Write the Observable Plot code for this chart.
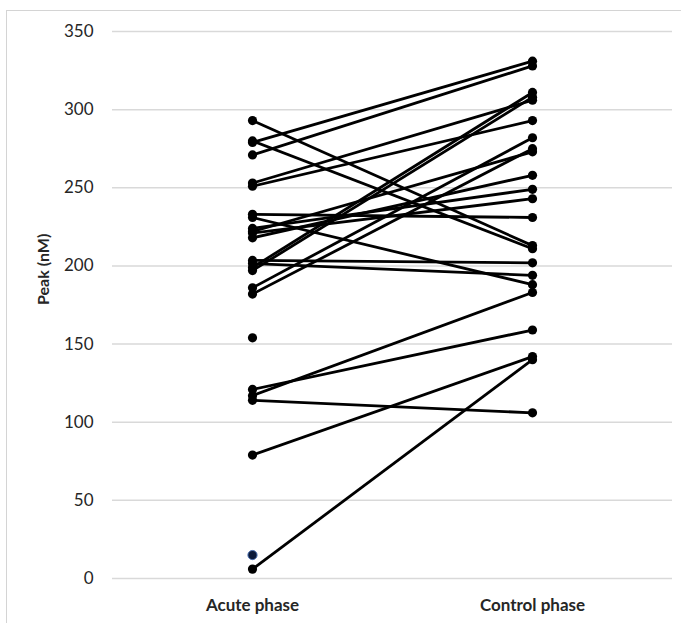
<!DOCTYPE html>
<html>
<head>
<meta charset="utf-8">
<script src="https://cdn.jsdelivr.net/npm/d3@7"></script>
<script src="https://cdn.jsdelivr.net/npm/@observablehq/plot@0.6"></script>
<style>
  html, body { margin: 0; padding: 0; background: #fff; }
  #wrap { position: relative; width: 681px; height: 623px; overflow: hidden; }
  #edge { position: absolute; left: 6px; top: 10px; width: 700px; height: 640px;
          border-top: 1.5px solid #d4d4d4; border-left: 1.5px solid #d4d4d4; }
  #chart { position: absolute; left: 0; top: 0; }
</style>
</head>
<body>
<div id="wrap"><div id="edge"></div><div id="chart"></div></div>
<script>
// Phase categories on the x axis
const phases = ["Acute phase", "Control phase"];
// Paired peak values (nM) per subject: acute phase and control phase
const acutePeak   = [293, 280, 279, 271, 253, 251, 233, 231, 224, 222, 221, 218, 203.5, 201.5, 199, 197, 186, 182, 121, 117, 114, 79, 6];
const controlPeak = [213, 211, 331, 328, 306, 293, 231, 188, 249, 273, 243, 258, 202, 194, 311, 308, 282, 275, 159, 183, 106, 142, 140];
// Acute-phase measurements without a control counterpart
const unpairedAcute = [154];
const unpairedAcuteMarked = [15];
// Y tick values
const yTicks = [0, 50, 100, 150, 200, 250, 300, 350];

const pairs = acutePeak.map((a, i) => ({a, c: controlPeak[i]}));
const points = [
  ...acutePeak.map(v => ({phase: phases[0], v})),
  ...controlPeak.map(v => ({phase: phases[1], v})),
  ...unpairedAcute.map(v => ({phase: phases[0], v}))
];
const marked = unpairedAcuteMarked.map(v => ({phase: phases[0], v}));

const chart = Plot.plot({
  width: 681,
  height: 623,
  marginTop: 31,
  marginBottom: 45,
  marginLeft: 112,
  marginRight: 9,
  style: {fontFamily: "Lato, 'Open Sans', sans-serif", fontSize: "17px", color: "#262626", background: "transparent"},
  x: {domain: phases, type: "point", padding: 0.5, label: null},
  y: {domain: [0, 350], ticks: yTicks, label: null},
  marks: [
    Plot.gridY(yTicks, {stroke: "#d9d9d9", strokeOpacity: 1, strokeWidth: 1.5}),
    Plot.axisY(yTicks, {tickSize: 0, tickPadding: 19, fontSize: 17, label: null}),
    Plot.axisX({tickSize: 0, tickPadding: 20, fontSize: 17, fontWeight: "bold", label: null}),
    Plot.link(pairs, {x1: () => phases[0], x2: () => phases[1], y1: "a", y2: "c", stroke: "#000", strokeWidth: 2.8}),
    Plot.dot(points, {x: "phase", y: "v", r: 4.6, fill: "#000", stroke: "none"}),
    Plot.dot(marked, {x: "phase", y: "v", r: 4.6, fill: "#0b1a3a", stroke: "#4a6fb0", strokeWidth: 1}),
    Plot.text(["Peak (nM)"], {frameAnchor: "left", dx: -69, rotate: -90, fontWeight: "bold", fontSize: 16, fill: "#262626"})
  ]
});
document.getElementById("chart").appendChild(chart);
</script>
</body>
</html>
